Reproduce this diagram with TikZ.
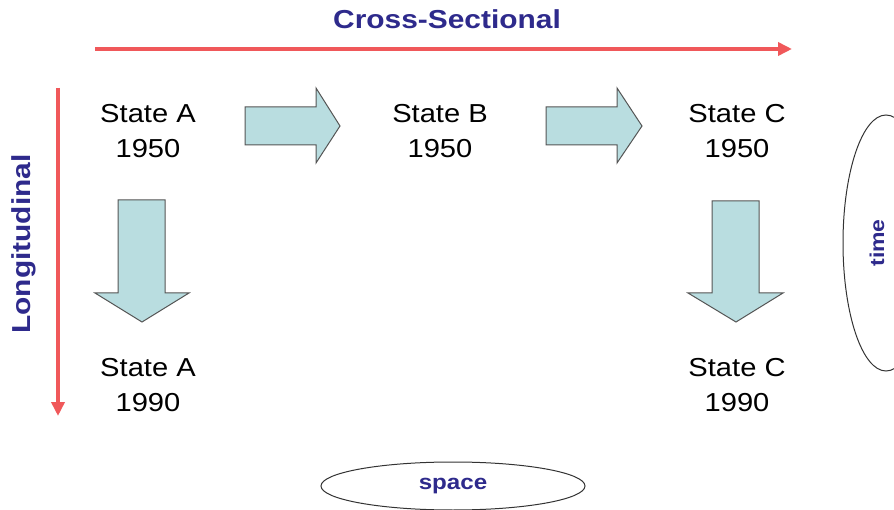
\documentclass[tikz,border=0pt]{standalone}
\usepackage{fontspec}
\setmainfont{Liberation Sans}
\usetikzlibrary{arrows.meta}
\definecolor{navy}{HTML}{2E2A8C}
\definecolor{redline}{HTML}{F0585A}
\definecolor{blockfill}{HTML}{B9DDE0}
\definecolor{blockline}{HTML}{555555}
\tikzset{
  statebox/.style={align=center,font=\fontsize{26}{35}\selectfont,inner sep=0pt,xscale=1.12},
  axislabel/.style={text=navy,font=\fontsize{26}{30}\selectfont\bfseries,xscale=1.15},
  redarrow/.style={draw=redline,line width=4pt,-{Triangle[length=14pt,width=13pt]}},
  block/.style={fill=blockfill,draw=blockline,line width=1pt,line join=miter},
  oval/.style={draw=black!80,line width=1pt}
}
\begin{document}
\begin{tikzpicture}[x=1pt,y=-1pt]
\useasboundingbox (0,0) rectangle (894,510);
\fill[white] (0,0) rectangle (894,510);
\begin{scope}
\clip (0,0) rectangle (894,510);
% title
\node[axislabel] (cs) at (447,19) {Cross-Sectional};
\coordinate (h0) at (95,49);
\coordinate (h1) at (792,49);
\draw[redarrow] (h0) -- (h1);
\coordinate (v0) at (58,88);
\coordinate (v1) at (58,416);
\draw[redarrow] (v0) -- (v1);
\node[text=navy,font=\fontsize{26}{30}\selectfont\bfseries,rotate=90,xscale=1.15] (lg) at (24,244) {Longitudinal};
% states
\node[statebox] (a50) at (148,131) {State A\\1950};
\node[statebox] (b50) at (440,131) {State B\\1950};
\node[statebox] (c50) at (737,131) {State C\\1950};
\node[statebox] (a90) at (148,385) {State A\\1990};
\node[statebox] (c90) at (737,385) {State C\\1990};
% block arrows
\draw[block] (245,107) -- (316,107) -- (316,88) -- (340,126) -- (316,163) -- (316,145) -- (245,145) -- cycle;
\draw[block] (546,107) -- (617,107) -- (617,88) -- (642,126) -- (617,163) -- (617,145) -- (546,145) -- cycle;
\draw[block] (118,200) -- (165,200) -- (165,293) -- (189,293) -- (142,322) -- (95,293) -- (118,293) -- cycle;
\draw[block] (712,201) -- (759,201) -- (759,293) -- (783,293) -- (736,322) -- (688,293) -- (712,293) -- cycle;
% ovals
\draw[oval] (886,243) ellipse [x radius=43, y radius=128];
\node[text=navy,font=\fontsize{20}{24}\selectfont\bfseries,rotate=90,xscale=1.15] (tm) at (877,243) {time};
\draw[oval] (453,486) ellipse [x radius=132, y radius=24];
\node[text=navy,font=\fontsize{21}{24}\selectfont\bfseries,xscale=1.15] (sp) at (453,486) {space};
\end{scope}
\end{tikzpicture}
\end{document}
